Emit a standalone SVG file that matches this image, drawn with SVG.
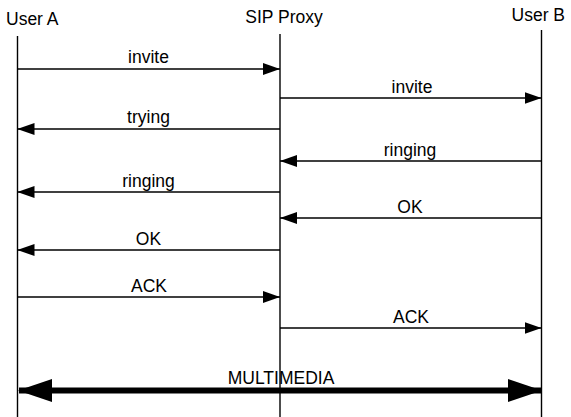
<svg xmlns="http://www.w3.org/2000/svg" width="571" height="417" viewBox="0 0 571 417">
<style>
text{font-family:"Liberation Sans",Arial,sans-serif;font-size:17.5px;fill:#000}
.life{stroke:#000;stroke-width:1.4;fill:none}
.msg{stroke:#000;stroke-width:1.4;fill:none}
.mid{text-anchor:middle}
.mm{stroke:#000;stroke-width:6;fill:none}
</style>
<defs>
<marker id="ah" markerUnits="userSpaceOnUse" markerWidth="17" markerHeight="12" refX="17" refY="6" orient="auto">
<path d="M0,0 L17,6 L0,12 Z" fill="#000"/>
</marker>
<marker id="bh" markerUnits="userSpaceOnUse" markerWidth="34" markerHeight="23" refX="33" refY="11.5" orient="auto-start-reverse">
<path d="M0,0 L34,11.5 L0,23 Z" fill="#000"/>
</marker>
</defs>
<rect width="571" height="417" fill="#fff"/>
<g id="userA">
<text x="6" y="25">User A</text>
<line class="life" x1="17.5" y1="36" x2="17.5" y2="417"/>
</g>
<g id="proxy">
<text x="284" y="22.5" class="mid">SIP Proxy</text>
<line class="life" x1="280" y1="34" x2="280" y2="417"/>
</g>
<g id="userB">
<text x="565" y="21" text-anchor="end">User B</text>
<line class="life" x1="541.5" y1="30" x2="541.5" y2="417"/>
</g>
<g id="connectors">
<line class="msg" x1="17.5" y1="69" x2="280" y2="69" marker-end="url(#ah)"/>
<text x="148.5" y="63" class="mid">invite</text>
<line class="msg" x1="280" y1="98" x2="541.5" y2="98" marker-end="url(#ah)"/>
<text x="412" y="92.5" class="mid">invite</text>
<line class="msg" x1="280" y1="129" x2="17.5" y2="129" marker-end="url(#ah)"/>
<text x="148.5" y="123" class="mid">trying</text>
<line class="msg" x1="541.5" y1="161" x2="280" y2="161" marker-end="url(#ah)"/>
<text x="410" y="156" class="mid">ringing</text>
<line class="msg" x1="280" y1="192" x2="17.5" y2="192" marker-end="url(#ah)"/>
<text x="148.5" y="186.5" class="mid">ringing</text>
<line class="msg" x1="541.5" y1="218" x2="280" y2="218" marker-end="url(#ah)"/>
<text x="410" y="212.5" class="mid">OK</text>
<line class="msg" x1="280" y1="250" x2="17.5" y2="250" marker-end="url(#ah)"/>
<text x="148.5" y="245" class="mid">OK</text>
<line class="msg" x1="17.5" y1="297" x2="280" y2="297" marker-end="url(#ah)"/>
<text x="149" y="291.5" class="mid">ACK</text>
<line class="msg" x1="280" y1="328" x2="541.5" y2="328" marker-end="url(#ah)"/>
<text x="411" y="322.5" class="mid">ACK</text>
<line class="mm" x1="19" y1="390.5" x2="541" y2="390.5" marker-start="url(#bh)" marker-end="url(#bh)"/>
<text x="281" y="384" class="mid">MULTIMEDIA</text>
</g>
</svg>
